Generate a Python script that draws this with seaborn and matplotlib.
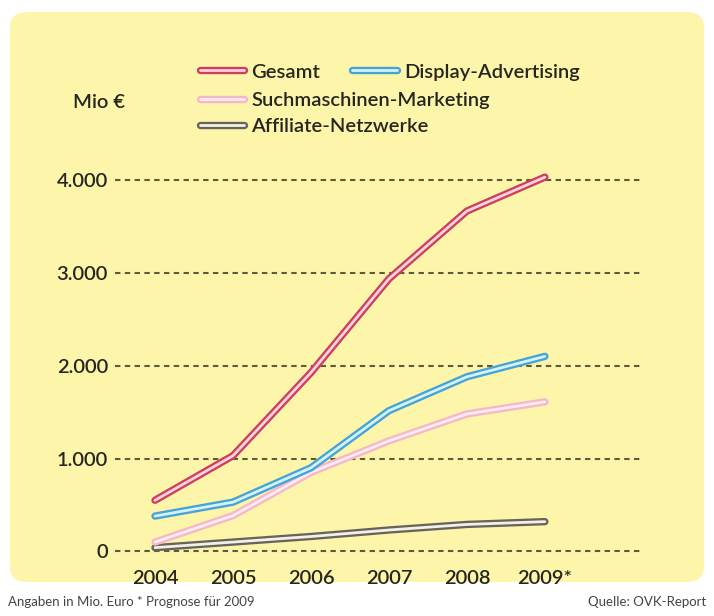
import matplotlib
matplotlib.use("Agg")
import matplotlib.pyplot as plt
import matplotlib.patheffects as pe
from matplotlib.lines import Line2D
from matplotlib.patches import FancyBboxPatch
import seaborn as sns
import pandas as pd

years = [2004, 2005, 2006, 2007, 2008, 2009]
year_labels = ["2004", "2005", "2006", "2007", "2008", "2009*"]
series_names = ["Gesamt", "Display-Advertising", "Suchmaschinen-Marketing", "Affiliate-Netzwerke"]
gesamt = [550, 1030, 1925, 2935, 3665, 4030]
display = [380, 530, 900, 1515, 1880, 2100]
such = [100, 385, 850, 1190, 1480, 1610]
affiliate = [40, 100, 160, 230, 290, 320]
y_ticks = [0, 1000, 2000, 3000, 4000]
y_tick_labels = ["0", "1.000", "2.000", "3.000", "4.000"]

outer = {"Gesamt": "#cc3f5e", "Display-Advertising": "#45a3d6",
         "Suchmaschinen-Marketing": "#f5b8cb", "Affiliate-Netzwerke": "#67655b"}
inner = {"Gesamt": "#fcd2dc", "Display-Advertising": "#d4f2fc",
         "Suchmaschinen-Marketing": "#fdecef", "Affiliate-Netzwerke": "#f3f0e6"}

values = {"Gesamt": gesamt, "Display-Advertising": display,
          "Suchmaschinen-Marketing": such, "Affiliate-Netzwerke": affiliate}
rows = []
for name in series_names:
    for yr, v in zip(years, values[name]):
        rows.append({"Jahr": yr, "Wert": v, "Serie": name})
df = pd.DataFrame(rows)

plt.rcParams['font.family'] = ['Lato', 'DejaVu Sans']
TXT = "#262620"
W, H = 714, 616
fig = plt.figure(figsize=(W / 100, H / 100), dpi=100)
fig.patch.set_facecolor("white")

bg = FancyBboxPatch((10 / W, 1 - 582 / H), 694 / W, 570 / H,
                    boxstyle="round,pad=0,rounding_size=0.025",
                    transform=fig.transFigure, facecolor="#fdf6aa",
                    edgecolor="none", zorder=-5)
fig.patches.append(bg)

ax = fig.add_axes([115 / W, (H - 556) / H, 525 / W, 390 / H])
ax.set_facecolor("none")
ax.set_zorder(2)

draw_order = ["Affiliate-Netzwerke", "Suchmaschinen-Marketing", "Display-Advertising", "Gesamt"]
for i, name in enumerate(draw_order):
    sub = df[df["Serie"] == name]
    sns.lineplot(data=sub, x="Jahr", y="Wert", ax=ax, color=inner[name],
                 linewidth=2.0, legend=False, zorder=3 + i)
    ln = ax.lines[-1]
    ln.set_solid_capstyle("round")
    ln.set_solid_joinstyle("round")
    ln.set_path_effects([pe.Stroke(linewidth=5.3, foreground=outer[name], capstyle="round", joinstyle="round"),
                         pe.Normal()])

ax.set_xlim(2003.487, 2010.22)
ax.set_ylim(-50, 4150)
ax.set_xticks(years)
ax.set_xticklabels(year_labels, fontsize=14.5, color=TXT, fontweight="semibold")
ax.set_yticks(y_ticks)
ax.set_yticklabels(y_tick_labels, fontsize=14.5, color=TXT, fontweight="semibold")
ax.tick_params(axis="both", length=0)
ax.tick_params(axis="y", pad=5)
ax.tick_params(axis="x", pad=10)
ax.yaxis.grid(True, linestyle=(0, (2.6, 2.1)), color="#5c5c3c", linewidth=1.5)
ax.xaxis.grid(False)
ax.set_axisbelow(True)
for s in ax.spines.values():
    s.set_visible(False)
ax.set_xlabel("")
ax.set_ylabel("")

def handle(name):
    h = Line2D([], [], color=inner[name], linewidth=2.0, solid_capstyle="round")
    h.set_path_effects([pe.Stroke(linewidth=5.3, foreground=outer[name], capstyle="round"), pe.Normal()])
    return h

leg_kw = dict(frameon=False, handlelength=2.2, handletextpad=0.35,
              borderaxespad=0, borderpad=0, labelcolor=TXT,
              prop={"size": 14.5, "weight": "semibold"})
leg1 = fig.legend([handle("Gesamt"), handle("Display-Advertising")],
                  ["Gesamt", "Display-Advertising"], ncol=2, columnspacing=1.6,
                  loc="center left", bbox_to_anchor=(200 / W, 1 - 72 / H), **leg_kw)
leg2 = fig.legend([handle("Suchmaschinen-Marketing"), handle("Affiliate-Netzwerke")],
                  ["Suchmaschinen-Marketing", "Affiliate-Netzwerke"], ncol=1,
                  labelspacing=0.45, loc="upper left", bbox_to_anchor=(200 / W, 1 - 92 / H), **leg_kw)

fig.text(73 / W, 1 - 103 / H, "Mio €", fontsize=14.5, color=TXT, fontweight="semibold",
         va="center", ha="left")
fig.text(8 / W, 1 - 602 / H, "Angaben in Mio. Euro * Prognose für 2009", fontsize=9.5,
         color="#444444", va="center", ha="left")
fig.text(706 / W, 1 - 602 / H, "Quelle: OVK-Report", fontsize=9.5,
         color="#444444", va="center", ha="right")

fig.savefig("out.png", dpi=100, facecolor="white")
